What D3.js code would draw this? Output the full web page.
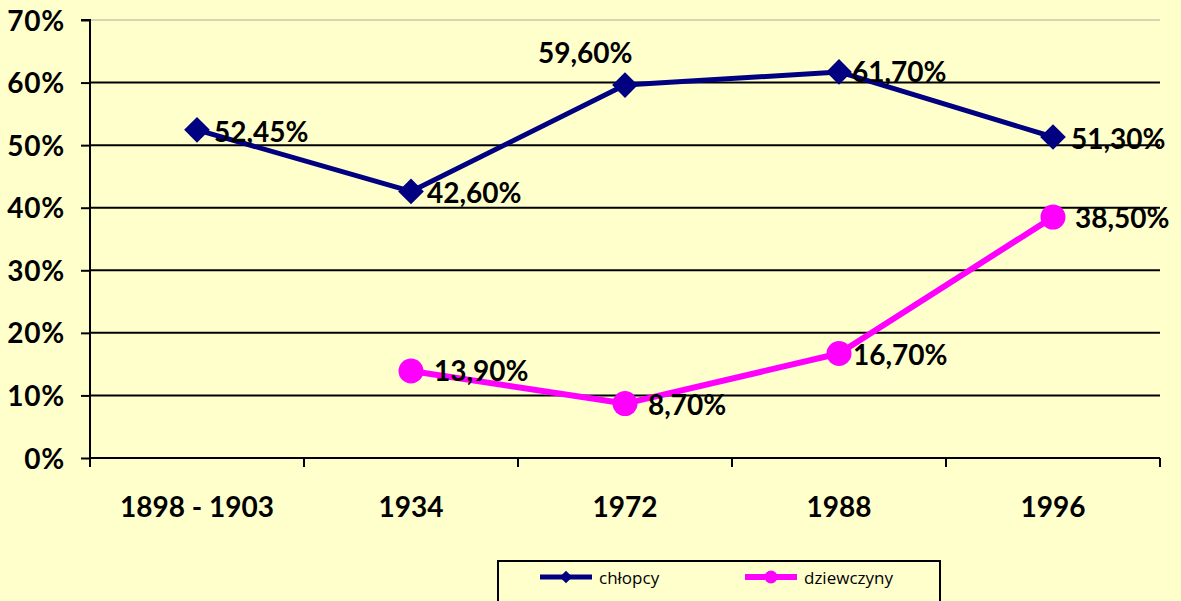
<!DOCTYPE html>
<html><head><meta charset="utf-8">
<script src="https://cdn.jsdelivr.net/npm/d3@7"></script>
<style>body{margin:0;background:#FFFFCC;}svg{display:block;}</style>
</head><body>
<svg id="c" width="1181" height="601"></svg>
<script>
const categories = ["1898 - 1903", "1934", "1972", "1988", "1996"];
const chlopcy = [52.45, 42.60, 59.60, 61.70, 51.30];
const dziewczyny = [null, 13.90, 8.70, 16.70, 38.50];
const chlopcyLabels = ["52,45%", "42,60%", "59,60%", "61,70%", "51,30%"];
const dziewczynyLabels = [null, "13,90%", "8,70%", "16,70%", "38,50%"];
const yTicks = [0, 10, 20, 30, 40, 50, 60, 70];
const seriesNames = ["chłopcy", "dziewczyny"];

const svg = d3.select("#c");
const W = 1181, H = 601;
svg.append("rect").attr("width", W).attr("height", H).attr("fill", "#FFFFCC");
const L = 90, R = 1160, T = 20, B = 458;
const x = d3.scaleBand().domain(categories).range([L, R]).padding(0);
const y = d3.scaleLinear().domain([0, 70]).range([B, T]);
const font = "Lato, 'Open Sans', sans-serif";
const fs = 28;

// gridlines
svg.append("g").selectAll("line").data(yTicks.filter(t => t > 0)).join("line")
  .attr("x1", L).attr("x2", R).attr("y1", d => y(d)).attr("y2", d => y(d))
  .attr("stroke", d => d === 70 ? "#c8c8b0" : "#000")
  .attr("stroke-width", d => d === 70 ? 1.5 : 2);

// y axis
const yAxis = d3.axisLeft(y).tickValues(yTicks).tickSize(9).tickFormat(d => d + "%");
const gy = svg.append("g").attr("transform", `translate(${L},0)`).call(yAxis);
gy.select(".domain").attr("stroke", "#000").attr("stroke-width", 2).attr("d", `M-9,${T}H0V${B}`);
gy.selectAll(".tick line").attr("stroke", "#000").attr("stroke-width", 2);
gy.selectAll(".tick text").attr("x", -25).attr("dy", "0.36em")
  .attr("font-family", font).attr("font-weight", "bold").attr("font-size", fs).attr("fill", "#000")
  .attr("letter-spacing", 0.8);

// x axis
const gx = svg.append("g").attr("transform", `translate(0,${B})`);
gx.append("line").attr("x1", L).attr("x2", R).attr("y1", 0).attr("y2", 0).attr("stroke", "#000").attr("stroke-width", 2);
const bounds = categories.map(c => x(c)).concat([x(categories[categories.length - 1]) + x.bandwidth()]);
gx.selectAll("line.tk").data(bounds).join("line").attr("class", "tk")
  .attr("x1", d => d).attr("x2", d => d).attr("y1", 0).attr("y2", 9).attr("stroke", "#000").attr("stroke-width", 2);
gx.selectAll("text").data(categories).join("text")
  .attr("x", d => x(d) + x.bandwidth() / 2).attr("y", 49).attr("dy", "0.36em")
  .attr("text-anchor", "middle").attr("font-family", font).attr("font-weight", "bold")
  .attr("font-size", fs).attr("fill", "#000").text(d => d);

const cx = i => x(categories[i]) + x.bandwidth() / 2;
const line = d3.line().defined(d => d.v != null).x(d => cx(d.i)).y(d => y(d.v));

const blue = "#000080", pink = "#FF00FF";
const cData = chlopcy.map((v, i) => ({v, i}));
const dData = dziewczyny.map((v, i) => ({v, i}));

svg.append("path").datum(cData).attr("d", line).attr("fill", "none").attr("stroke", blue).attr("stroke-width", 5).attr("stroke-linejoin", "round");
svg.append("path").datum(dData).attr("d", line).attr("fill", "none").attr("stroke", pink).attr("stroke-width", 6).attr("stroke-linejoin", "round");

const diamond = d3.symbol().type(d3.symbolSquare).size(330);
svg.selectAll("path.dm").data(cData).join("path").attr("class", "dm")
  .attr("d", diamond).attr("fill", blue)
  .attr("transform", d => `translate(${cx(d.i)},${y(d.v)}) rotate(45)`);
svg.selectAll("circle.ci").data(dData.filter(d => d.v != null)).join("circle").attr("class", "ci")
  .attr("cx", d => cx(d.i)).attr("cy", d => y(d.v)).attr("r", 12.5).attr("fill", pink);

// labels
const cOff = [[17, 2], [16, 1], [-87, -32], [13, 0], [18, 2]];
const dOff = [null, [23, 0], [23, 1], [14, 1], [22, 1]];
const lab = svg.append("g").attr("font-family", font).attr("font-weight", "bold").attr("font-size", fs).attr("fill", "#000");
cData.forEach(d => {
  lab.append("text").attr("x", cx(d.i) + cOff[d.i][0]).attr("y", y(d.v) + cOff[d.i][1]).attr("dy", "0.36em").text(chlopcyLabels[d.i]);
});
dData.forEach(d => {
  if (d.v == null) return;
  lab.append("text").attr("x", cx(d.i) + dOff[d.i][0]).attr("y", y(d.v) + dOff[d.i][1]).attr("dy", "0.36em").text(dziewczynyLabels[d.i]);
});

// legend
const lg = svg.append("g");
lg.append("rect").attr("x", 498).attr("y", 561).attr("width", 442).attr("height", 50)
  .attr("fill", "#FFFFCC").attr("stroke", "#000").attr("stroke-width", 2);
const legendItems = [{name: seriesNames[0], color: blue, x0: 540, shape: "d"}, {name: seriesNames[1], color: pink, x0: 745, shape: "c"}];
legendItems.forEach(it => {
  lg.append("line").attr("x1", it.x0).attr("x2", it.x0 + 52).attr("y1", 577).attr("y2", 577).attr("stroke", it.color).attr("stroke-width", it.shape === "d" ? 5 : 6);
  if (it.shape === "d") {
    lg.append("path").attr("d", d3.symbol().type(d3.symbolSquare).size(80)).attr("fill", it.color).attr("transform", `translate(${it.x0 + 26},577) rotate(45)`);
  } else {
    lg.append("circle").attr("cx", it.x0 + 26).attr("cy", 577).attr("r", 6.5).attr("fill", it.color);
  }
  lg.append("text").attr("x", it.x0 + 59).attr("y", 578).attr("dy", "0.35em").attr("font-family", "'Open Sans', Lato, sans-serif").attr("font-size", 17).attr("fill", "#000").text(it.name);
});
</script>
</body></html>
